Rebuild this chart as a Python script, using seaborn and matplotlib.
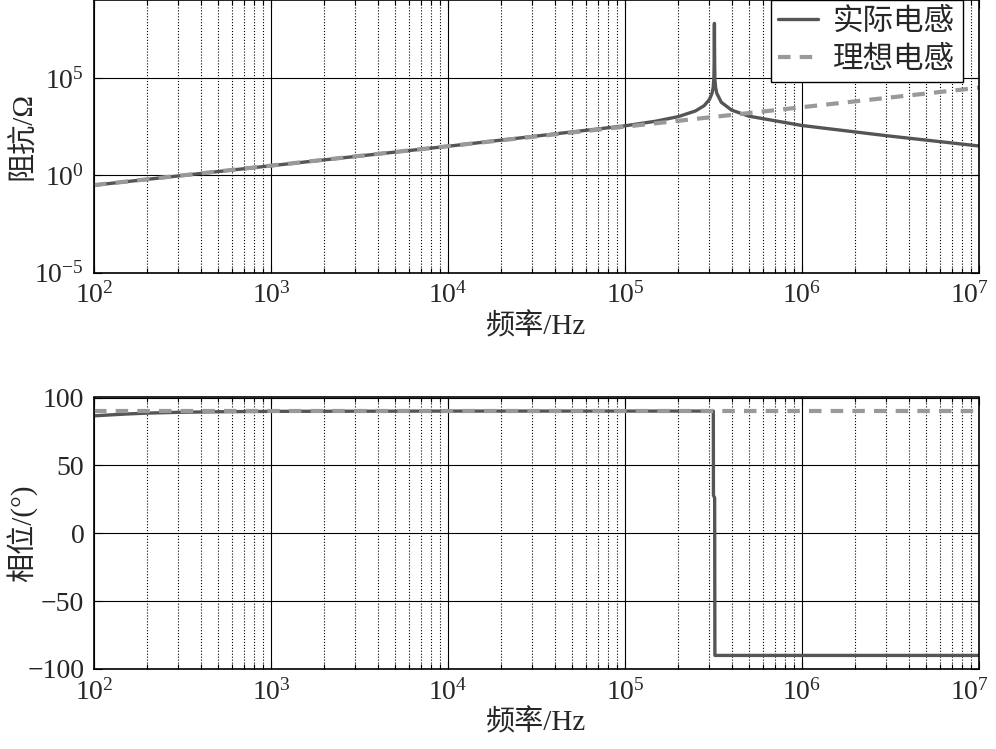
import numpy as np
import seaborn as sns
import matplotlib.pyplot as plt
import matplotlib.transforms as mtransforms
from matplotlib.ticker import LogLocator, NullFormatter, LogFormatterMathtext

# values
freq_real = [1e2, 1e3, 1e4, 1e5, 1.5e5, 2e5, 2.5e5, 2.8e5, 3.0e5, 3.1e5, 3.15e5, 3.18e5,
             3.19e5, 3.2e5, 3.21e5, 3.22e5, 3.25e5, 3.3e5, 3.5e5, 4e5, 5e5, 1e6, 3e6, 1e7]
z_real = [0.31, 3.1, 31, 348, 604, 1030, 2010, 3760, 7800, 16000, 32000, 120000,
          600000, 6.3e7, 600000, 81000, 32400, 16300, 5600, 2230, 1090, 360, 108, 32]
freq_ideal = [1e2, 1e7]
z_ideal = [0.314, 31400]

freq_phase_real = [1e2, 1.5e2, 2e2, 3e2, 5e2, 1e3, 1e4, 3.155e5, 3.16e5, 3.21e5, 3.22e5, 1e7]
phase_real = [86.5, 87.8, 88.5, 89.1, 89.5, 89.8, 90, 90, 28, 26, -90, -90]
freq_phase_ideal = [1e2, 1e7]
phase_ideal = [90, 90]
freq_ticks = [1e2, 1e3, 1e4, 1e5, 1e6, 1e7]

sns.set_style("ticks")
plt.rcParams['font.family'] = ['Liberation Serif', 'Noto Sans CJK SC']
plt.rcParams['mathtext.fontset'] = 'stix'
plt.rcParams['axes.unicode_minus'] = True

real_c = '#555555'
ideal_c = '#999999'
fs = 20

fig = plt.figure(figsize=(9.96, 7.49), dpi=100)
ax1 = fig.add_axes([94/996, 1 - 272.7/749, 885/996, 272.7/749])
ax2 = fig.add_axes([94/996, 1 - 669/749, 885/996, 271.5/749])

sns.lineplot(x=freq_real, y=z_real, ax=ax1, color=real_c, lw=2.4, estimator=None, sort=False, label='实际电感')
sns.lineplot(x=freq_ideal, y=z_ideal, ax=ax1, color=ideal_c, lw=3, ls=(0, (3, 2.2)), estimator=None, sort=False, label='理想电感')
sns.lineplot(x=freq_phase_real, y=phase_real, ax=ax2, color=real_c, lw=2.4, estimator=None, sort=False)
sns.lineplot(x=freq_phase_ideal, y=phase_ideal, ax=ax2, color=ideal_c, lw=3, ls=(0, (3, 2.2)), estimator=None, sort=False)

for ax in (ax1, ax2):
    ax.set_xscale('log')
    ax.set_xlim(1e2, 1e7)
    ax.set_xticks(freq_ticks)
    ax.xaxis.set_major_formatter(LogFormatterMathtext())
    ax.xaxis.set_minor_locator(LogLocator(base=10, subs=np.arange(2, 10), numticks=20))
    ax.xaxis.set_minor_formatter(NullFormatter())
    ax.grid(True, which='major', color='black', lw=0.8, ls='-')
    ax.grid(True, which='minor', axis='x', color='black', lw=0.8, ls=':')
    ax.tick_params(which='both', direction='in', labelsize=fs, pad=7,
                   top=True, right=True, color='black', width=0.8)
    ax.tick_params(which='major', length=6)
    ax.tick_params(which='minor', length=3.5)
    for s in ax.spines.values():
        s.set_color('black')
        s.set_linewidth(1.2)
    ax.set_xlabel('频率/Hz', fontsize=21, labelpad=3)
    ax.yaxis.set_label_coords(-0.064, 0.5)

ax1.set_yscale('log')
ax1.set_ylim(1e-5, 1e9)
ax1.set_yticks([1e-5, 1, 1e5])
ax1.yaxis.set_major_formatter(LogFormatterMathtext())
ax1.yaxis.set_minor_locator(plt.NullLocator())
ax1.set_ylabel('阻抗/Ω', fontsize=21)
leg = ax1.legend(loc='upper right', bbox_to_anchor=(963/996, 1.0), bbox_transform=fig.transFigure,
                 fontsize=22, frameon=True, fancybox=False, framealpha=1,
                 edgecolor='black', handlelength=1.3, borderaxespad=0.0,
                 borderpad=0.25, labelspacing=0.3, handletextpad=0.5)
leg.get_frame().set_linewidth(1.0)

ax2.set_ylim(-100, 100)
ax2.set_yticks([-100, -50, 0, 50, 100])
ax2.set_ylabel('相位/(°)', fontsize=21)

# nudge the 10^7 label left so it stays inside the figure
shift = mtransforms.ScaledTranslation(-9/100, 0, fig.dpi_scale_trans)
fig.canvas.draw()
for ax in (ax1, ax2):
    last = ax.xaxis.get_major_ticks()[-1].label1
    last.set_transform(last.get_transform() + shift)

fig.savefig('out.png', dpi=100)
